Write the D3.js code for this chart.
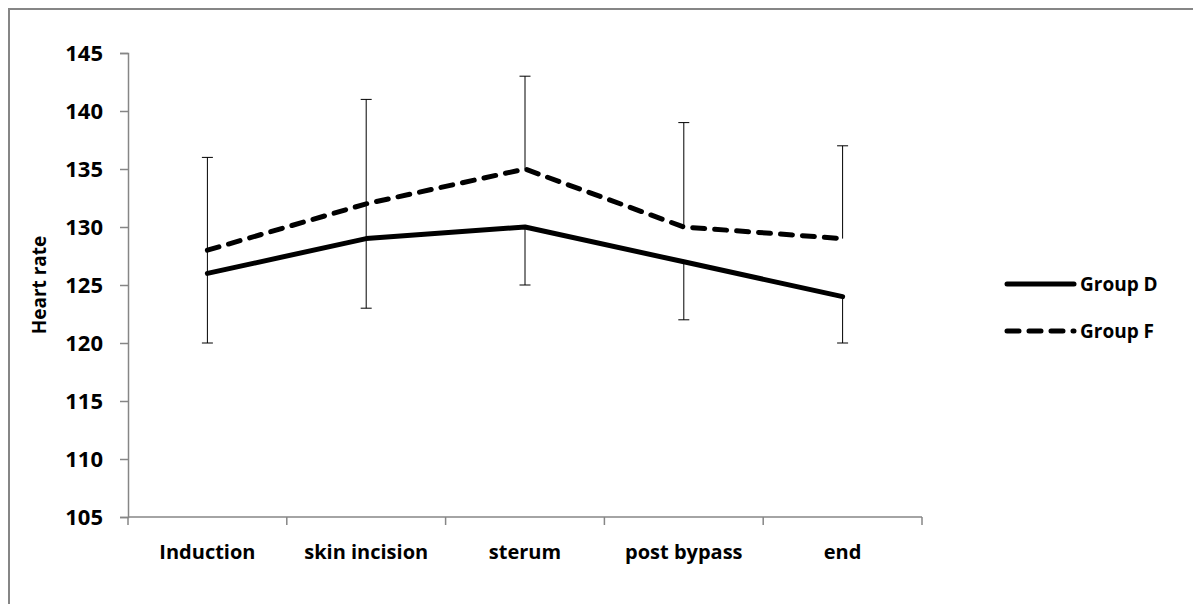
<!DOCTYPE html>
<html>
<head>
<meta charset="utf-8">
<script src="https://cdn.jsdelivr.net/npm/d3@7"></script>
<style>
  body { margin: 0; background: #fff; }
  svg text { font-family: "Open Sans", Lato, sans-serif; font-weight: bold; fill: #000; }
</style>
</head>
<body>
<div id="container"></div>
<script>
// chart values
var categories = ["Induction", "skin incision", "sterum", "post bypass", "end"];
var groupD = [126, 129, 130, 127, 124];
var groupF = [128, 132, 135, 130, 129];
// error bars: F drawn upwards, D drawn downwards
var errFPlus = [8, 9, 8, 9, 8];
var errFMinus = [2, 3, 0, 0, 0];   // short segment joining the two lines
var errDMinus = [6, 6, 5, 5, 4];
var yTicks = [105, 110, 115, 120, 125, 130, 135, 140, 145];
var seriesNames = ["Group D", "Group F"];

var W = 1193, H = 604;
var svg = d3.select("#container").append("svg")
  .attr("width", W).attr("height", H);

// outer frame
svg.append("rect")
  .attr("x", 9).attr("y", 9).attr("width", 1220).attr("height", 640)
  .attr("fill", "none").attr("stroke", "#868686").attr("stroke-width", 2);

var pLeft = 128, pRight = 922, pTop = 53, pBottom = 517;

var x = d3.scaleBand().domain(categories).range([pLeft, pRight]);
var y = d3.scaleLinear().domain([105, 145]).range([pBottom, pTop]);
var cx = function(i) { return x(categories[i]) + x.bandwidth() / 2; };

// y axis
var yAxis = svg.append("g").attr("transform", "translate(" + pLeft + ",0)")
  .call(d3.axisLeft(y).tickValues(yTicks).tickSize(8).tickPadding(17));
yAxis.selectAll("line, path").attr("stroke", "#868686").attr("stroke-width", 1.5);
yAxis.selectAll("text").style("font-size", "22px")
  .style("font-family", "'Open Sans', sans-serif").style("font-weight", "bold");

// x axis, ticks between categories
var xAxis = svg.append("g").attr("transform", "translate(0," + pBottom + ")");
xAxis.append("line").attr("x1", pLeft).attr("x2", pRight)
  .attr("stroke", "#868686").attr("stroke-width", 1.5);
xAxis.selectAll(".tk").data(d3.range(categories.length + 1)).enter()
  .append("line")
  .attr("x1", function(i) { return pLeft + i * x.bandwidth(); })
  .attr("x2", function(i) { return pLeft + i * x.bandwidth(); })
  .attr("y1", 0).attr("y2", 8)
  .attr("stroke", "#868686").attr("stroke-width", 1.5);
xAxis.selectAll(".lbl").data(categories).enter()
  .append("text")
  .attr("x", function(d) { return x(d) + x.bandwidth() / 2; })
  .attr("y", 42)
  .attr("text-anchor", "middle")
  .style("font-size", "20px")
  .text(function(d) { return d; });

// y title
svg.append("text")
  .attr("transform", "translate(46," + ((pTop + pBottom) / 2) + ") rotate(-90)")
  .attr("text-anchor", "middle")
  .style("font-size", "19px")
  .text("Heart rate");

// error bars
var capW = 11;
function errBar(i, v1, v2, cap) {
  var g = svg.append("g").attr("stroke", "#000").attr("stroke-width", 1);
  g.append("line").attr("x1", cx(i)).attr("x2", cx(i))
    .attr("y1", y(v1)).attr("y2", y(v2));
  if (cap) {
    g.append("line").attr("x1", cx(i) - capW / 2).attr("x2", cx(i) + capW / 2)
      .attr("y1", y(v2)).attr("y2", y(v2));
  }
}
categories.forEach(function(c, i) {
  errBar(i, groupF[i], groupF[i] + errFPlus[i], true);
  if (errFMinus[i] > 0) errBar(i, groupF[i], groupF[i] - errFMinus[i], false);
  errBar(i, groupD[i], groupD[i] - errDMinus[i], true);
});

// lines
var line = d3.line()
  .x(function(d, i) { return cx(i); })
  .y(function(d) { return y(d); });

svg.append("path").datum(groupD)
  .attr("d", line).attr("fill", "none")
  .attr("stroke", "#000").attr("stroke-width", 5)
  .attr("stroke-linejoin", "round").attr("stroke-linecap", "round");

svg.append("path").datum(groupF)
  .attr("d", line).attr("fill", "none")
  .attr("stroke", "#000").attr("stroke-width", 5)
  .attr("stroke-dasharray", "12,10")
  .attr("stroke-linecap", "round");

// legend
var legend = svg.append("g");
seriesNames.forEach(function(name, i) {
  var ly = 284 + i * 47;
  legend.append("line")
    .attr("x1", 1007).attr("x2", 1074).attr("y1", ly).attr("y2", ly)
    .attr("stroke", "#000").attr("stroke-width", 5)
    .attr("stroke-linecap", "round")
    .attr("stroke-dasharray", i === 1 ? "12,10" : null);
  legend.append("text")
    .attr("x", 1080).attr("y", ly + 7)
    .style("font-size", "19px")
    .text(name);
});
</script>
</body>
</html>
